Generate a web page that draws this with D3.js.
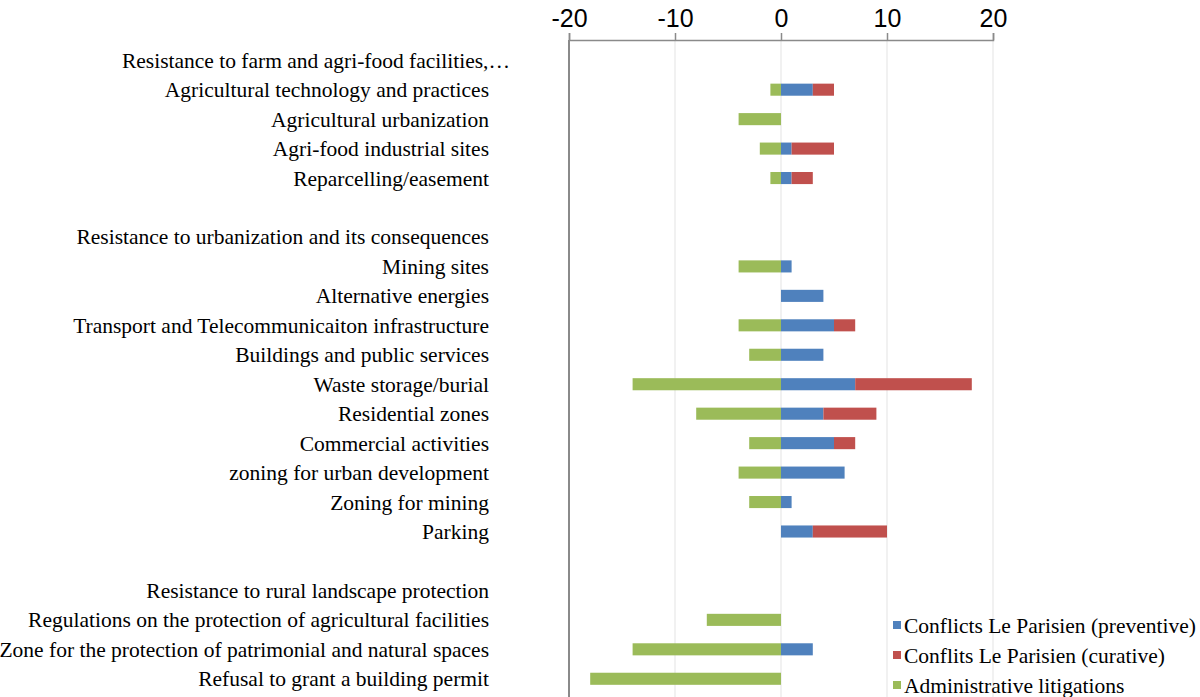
<!DOCTYPE html>
<html>
<head>
<meta charset="utf-8">
<script src="https://cdn.jsdelivr.net/npm/d3@7"></script>
<style>
  body { margin: 0; background: #fff; }
  svg { display: block; }
</style>
</head>
<body>
<div id="chart"></div>
<script>
// categories, top to bottom ("" = blank spacer row)
const categories = [
  "Resistance to farm and agri-food facilities,…",
  "Agricultural technology and practices",
  "Agricultural urbanization",
  "Agri-food industrial sites",
  "Reparcelling/easement",
  "",
  "Resistance to urbanization and its consequences",
  "Mining sites",
  "Alternative energies",
  "Transport and Telecommunicaiton infrastructure",
  "Buildings and public services",
  "Waste storage/burial",
  "Residential zones",
  "Commercial activities",
  "zoning for urban development",
  "Zoning for mining",
  "Parking",
  "",
  "Resistance to rural landscape protection",
  "Regulations on the protection of agricultural facilities",
  "Zone for the protection of patrimonial and natural spaces",
  "Refusal to grant a building permit"
];
const preventive = [0, 3, 0, 1, 1, 0, 0, 1, 4, 5, 4, 7, 4, 5, 6, 1, 3, 0, 0, 0, 3, 0];
const curative   = [0, 2, 0, 4, 2, 0, 0, 0, 0, 2, 0, 11, 5, 2, 0, 0, 7, 0, 0, 0, 0, 0];
const litigation = [0, -1, -4, -2, -1, 0, 0, -4, 0, -4, -3, -14, -8, -3, -4, -3, 0, 0, 0, -7, -14, -18];
const seriesNames = ["Conflicts Le Parisien (preventive)", "Conflits Le Parisien (curative)", "Administrative litigations"];
const seriesColors = ["#4f81bd", "#c0504d", "#9bbb59"];
const xTicks = [-20, -10, 0, 10, 20];

const W = 1200, H = 697;
const svg = d3.select("#chart").append("svg").attr("width", W).attr("height", H);

const x = d3.scaleLinear().domain([-20, 20]).range([569, 993]);
const y = d3.scaleBand().domain(d3.range(categories.length)).range([45.5, 693.5]).paddingInner(0.59).paddingOuter(0.295);

// gridlines
svg.append("g").selectAll("line").data(xTicks.slice(1)).join("line")
  .attr("x1", d => x(d)).attr("x2", d => x(d))
  .attr("y1", 40).attr("y2", H)
  .attr("stroke", "#e3e3e3").attr("stroke-width", 1);

// top axis
const axis = svg.append("g").attr("transform", "translate(0,40)")
  .call(d3.axisTop(x).tickValues(xTicks).tickSize(7).tickPadding(9).tickFormat(d => String(d)));
axis.select(".domain").attr("stroke", "#8a8a8a").attr("stroke-width", 1.5);
axis.selectAll(".tick line").attr("stroke", "#8a8a8a").attr("stroke-width", 1.5);
axis.selectAll(".tick text")
  .attr("font-family", "Liberation Sans, Arial, sans-serif")
  .attr("font-size", 25).attr("fill", "#000").attr("dy", "0.1em");

// left vertical axis line
svg.append("line").attr("x1", x(-20)).attr("x2", x(-20)).attr("y1", 40).attr("y2", H)
  .attr("stroke", "#8a8a8a").attr("stroke-width", 2);

// bars: preventive from 0, curative stacked after it, litigation negative
const rows = categories.map((c, i) => ({ i, p: preventive[i], c: curative[i], l: litigation[i] }));
const bars = svg.append("g");
bars.selectAll("rect.l").data(rows.filter(d => d.l !== 0)).join("rect").attr("class", "l")
  .attr("x", d => x(d.l)).attr("width", d => x(0) - x(d.l))
  .attr("y", d => y(d.i)).attr("height", y.bandwidth()).attr("fill", seriesColors[2]);
bars.selectAll("rect.p").data(rows.filter(d => d.p !== 0)).join("rect").attr("class", "p")
  .attr("x", x(0)).attr("width", d => x(d.p) - x(0))
  .attr("y", d => y(d.i)).attr("height", y.bandwidth()).attr("fill", seriesColors[0]);
bars.selectAll("rect.c").data(rows.filter(d => d.c !== 0)).join("rect").attr("class", "c")
  .attr("x", d => x(d.p)).attr("width", d => x(d.p + d.c) - x(d.p))
  .attr("y", d => y(d.i)).attr("height", y.bandwidth()).attr("fill", seriesColors[1]);

// category labels
svg.append("g").selectAll("text").data(categories.map((c, i) => ({ c, i })).filter(d => d.c)).join("text")
  .attr("x", d => d.i === 0 ? 510 : 489)
  .attr("y", d => y(d.i) + y.bandwidth() / 2)
  .attr("dy", "0.35em").attr("text-anchor", "end")
  .attr("font-family", "Liberation Serif, Times New Roman, serif")
  .attr("font-size", 21.5).attr("fill", "#000")
  .text(d => d.c);

// legend
const legend = svg.append("g").selectAll("g").data(seriesNames).join("g")
  .attr("transform", (d, i) => `translate(893,${625 + i * 30})`);
legend.append("rect").attr("x", 0).attr("y", -4).attr("width", 8).attr("height", 8)
  .attr("fill", (d, i) => seriesColors[i]);
legend.append("text").attr("x", 11).attr("dy", "0.35em")
  .attr("font-family", "Liberation Serif, Times New Roman, serif")
  .attr("font-size", 21.5).attr("fill", "#000")
  .text(d => d);
</script>
</body>
</html>
